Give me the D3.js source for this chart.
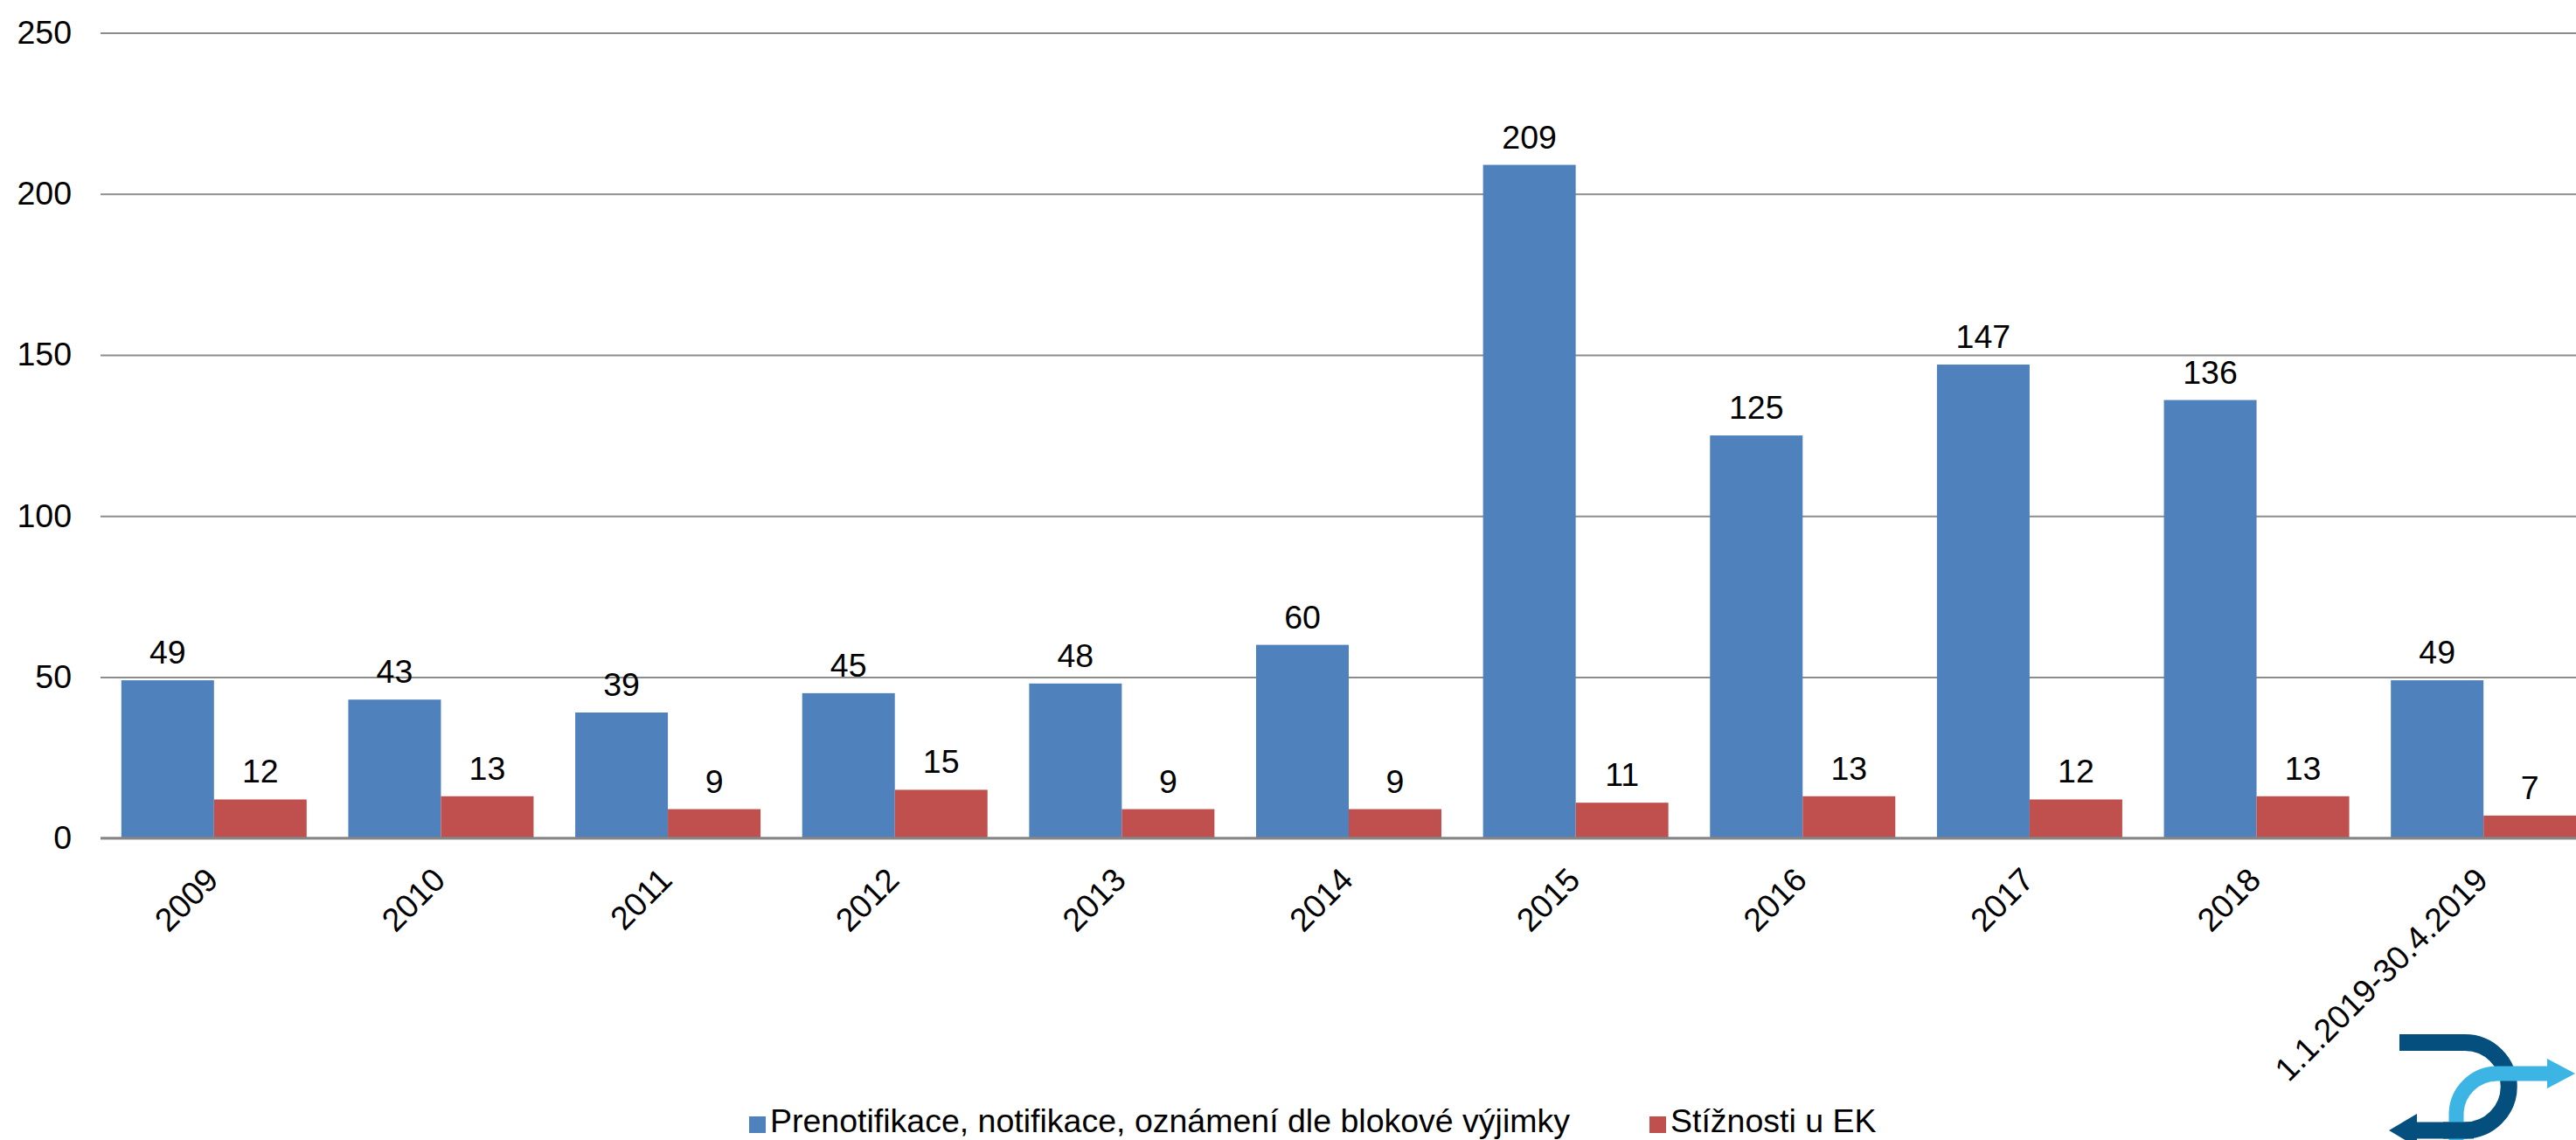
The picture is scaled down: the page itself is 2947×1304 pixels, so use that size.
<!DOCTYPE html>
<html>
<head>
<meta charset="utf-8">
<script src="https://cdn.jsdelivr.net/npm/d3@7"></script>
<style>
  html, body { margin: 0; padding: 0; background: #fff; overflow: hidden; }
  svg { display: block; font-family: "Liberation Sans", Arial, sans-serif; }
</style>
</head>
<body>
<svg id="chart" width="2947" height="1304"></svg>
<script>
const categories = ["2009","2010","2011","2012","2013","2014","2015","2016","2017","2018","1.1.2019-30.4.2019"];
const notifikace = [49,43,39,45,48,60,209,125,147,136,49];
const stiznosti = [12,13,9,15,9,9,11,13,12,13,7];
const yTicks = [0,50,100,150,200,250];
const seriesNames = ["Prenotifikace, notifikace, oznámení dle blokové výjimky", "Stížnosti u EK"];
const seriesColors = ["#4f81bd", "#c0504d"];

const W = 2947, H = 1304;
const plotLeft = 115, plotRight = 2971, yTop = 37.5, yBottom = 958.7;
const fontSize = 37.5;

const svg = d3.select("#chart");

const x0 = d3.scaleBand().domain(categories).range([plotLeft, plotRight])
  .paddingInner(0.1835).paddingOuter(0.0917);
const x1 = d3.scaleBand().domain([0, 1]).range([0, x0.bandwidth()]);
const y = d3.scaleLinear().domain([0, 250]).range([yBottom, yTop]);

// gridlines + y labels
const yAxis = d3.axisLeft(y).tickValues(yTicks).tickSizeInner(-(W - plotLeft)).tickSizeOuter(0).tickPadding(33);
const gy = svg.append("g").attr("transform", `translate(${plotLeft},0)`).call(yAxis);
gy.select(".domain").remove();
gy.selectAll(".tick line").attr("stroke", "#8c8c8c").attr("stroke-width", 2);
gy.selectAll(".tick text").attr("fill", "#000").attr("font-size", fontSize)
  .attr("font-family", "Liberation Sans, Arial, sans-serif");

// bars
const data = categories.map((c, i) => ({ c, vals: [notifikace[i], stiznosti[i]] }));
const groups = svg.append("g").selectAll("g").data(data).join("g")
  .attr("transform", d => `translate(${x0(d.c)},0)`);
groups.selectAll("rect").data(d => d.vals.map((v, k) => ({ v, k }))).join("rect")
  .attr("x", d => x1(d.k))
  .attr("width", x1.bandwidth())
  .attr("y", d => y(d.v))
  .attr("height", d => y(0) - y(d.v))
  .attr("fill", d => seriesColors[d.k]);
groups.selectAll("text").data(d => d.vals.map((v, k) => ({ v, k }))).join("text")
  .attr("x", d => x1(d.k) + x1.bandwidth() / 2)
  .attr("y", d => y(d.v) - 19)
  .attr("text-anchor", "middle")
  .attr("font-size", fontSize)
  .attr("fill", "#000")
  .text(d => d.v);

// baseline
svg.append("line").attr("x1", plotLeft).attr("x2", W).attr("y1", y(0)).attr("y2", y(0))
  .attr("stroke", "#868686").attr("stroke-width", 3);

// x axis labels
const xAxis = d3.axisBottom(x0).tickSize(0).tickPadding(0);
const gx = svg.append("g").attr("transform", `translate(0,${y(0)})`).call(xAxis);
gx.select(".domain").remove();
gx.selectAll(".tick text")
  .attr("font-size", fontSize)
  .attr("font-family", "Liberation Sans, Arial, sans-serif")
  .attr("fill", "#000")
  .attr("text-anchor", "end")
  .attr("y", 0).attr("dy", 0)
  .attr("transform", "translate(7,50) rotate(-45)");

// legend
const legend = svg.append("g");
const legendItems = [
  { name: seriesNames[0], color: seriesColors[0], sx: 857 },
  { name: seriesNames[1], color: seriesColors[1], sx: 1887 }
];
legend.selectAll("rect").data(legendItems).join("rect")
  .attr("x", d => d.sx).attr("y", 1277).attr("width", 19).attr("height", 19)
  .attr("fill", d => d.color);
legend.selectAll("text").data(legendItems).join("text")
  .attr("x", d => d.sx + 24).attr("y", 1295)
  .attr("font-size", fontSize).attr("fill", "#000")
  .text(d => d.name);

// logo
const logo = svg.append("g");
const dark = "#044f7e", light = "#3cb4e4";
logo.append("path")
  .attr("d", "M2745,1192.5 H2820 A50.25 50.25 0 0 1 2820,1293 H2762")
  .attr("fill", "none").attr("stroke", dark).attr("stroke-width", 19);
logo.append("path").attr("d", "M2733,1293 L2765,1274 L2765,1312 Z").attr("fill", dark);
logo.append("path")
  .attr("d", "M2810,1320 V1275 A47 47 0 0 1 2857,1228 H2918")
  .attr("fill", "none").attr("stroke", light).attr("stroke-width", 17);
logo.append("path").attr("d", "M2946,1228 L2914,1211 L2914,1245 Z").attr("fill", light);
logo.append("path")
  .attr("d", "M2830,1293 H2795")
  .attr("fill", "none").attr("stroke", dark).attr("stroke-width", 19);
</script>
</body>
</html>
